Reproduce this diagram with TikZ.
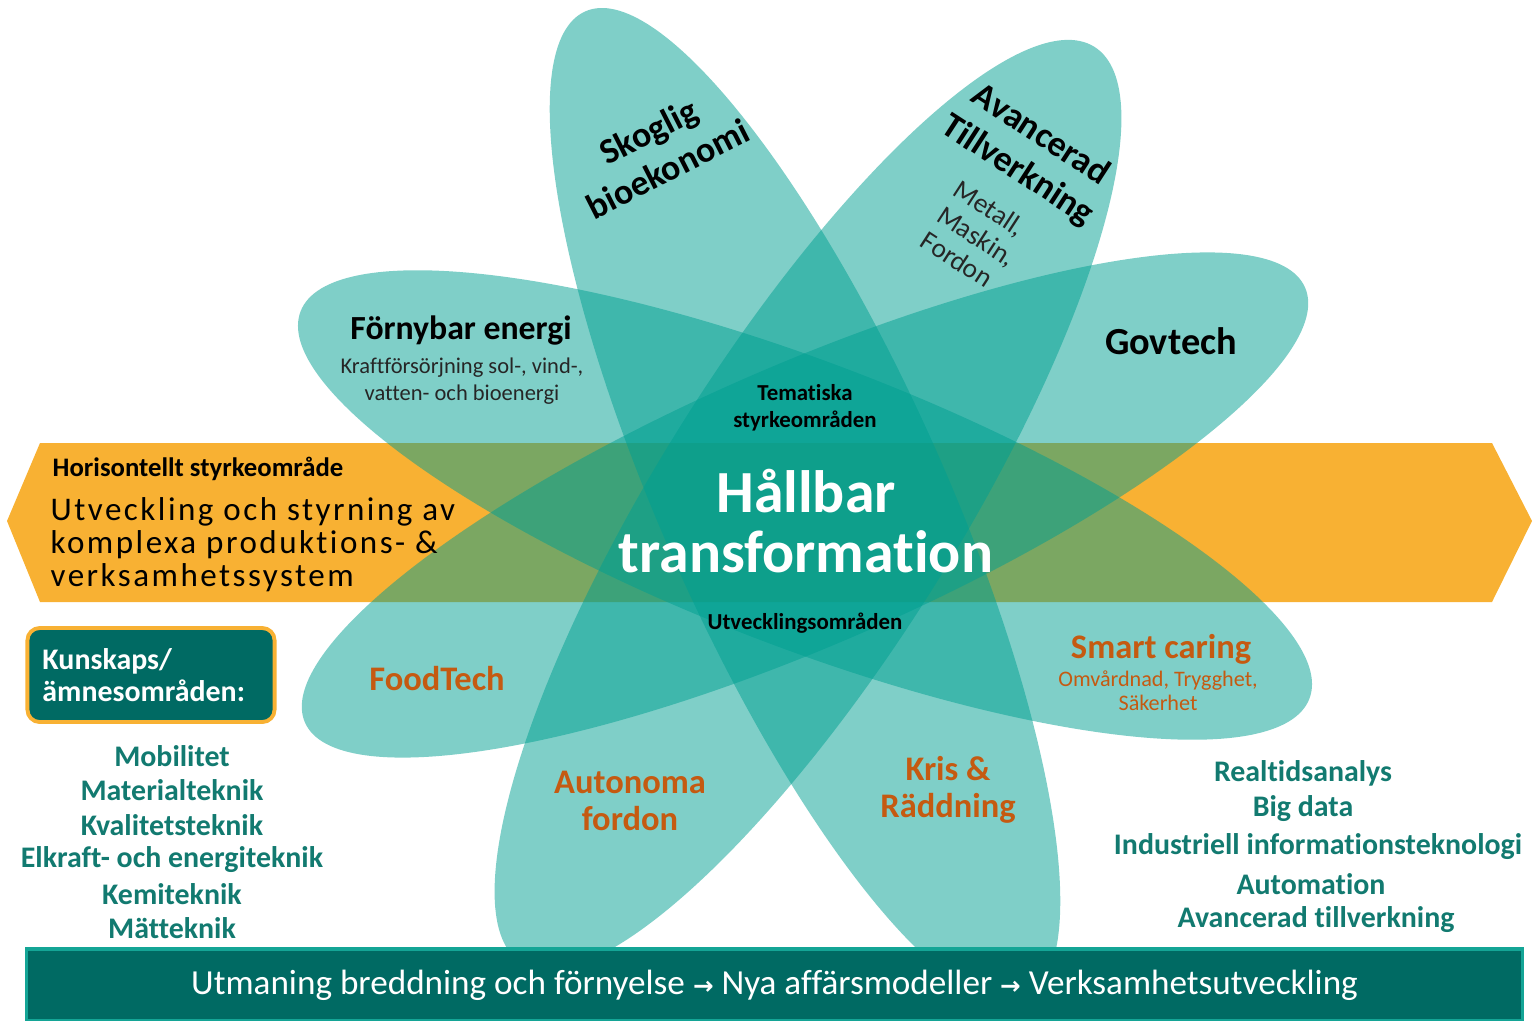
\documentclass[tikz,border=0pt]{standalone}
\usepackage{fontspec}
\setmainfont[Ligatures=NoCommon]{Carlito}
\newfontfamily\arrowfont{DejaVu Sans}
\newfontfamily\spacedfont[LetterSpace=7.5,Ligatures=NoCommon]{Carlito}
\usetikzlibrary{positioning}
\definecolor{bandorange}{RGB}{248,177,51}
\definecolor{petalteal}{RGB}{0,159,145}
\definecolor{deepteal}{RGB}{0,106,99}
\definecolor{listteal}{RGB}{18,122,112}
\definecolor{rust}{RGB}{197,90,17}
\definecolor{rimteal}{RGB}{20,165,150}
\newcommand{\nextstep}{{\arrowfont\fontsize{7pt}{7pt}\selectfont\textbf{→}}}
\tikzset{%
  % Specifications for style of shapes and nodes:
      petal/.style = {fill=petalteal, fill opacity=0.5},
   bigtitle/.style = {text=white, font=\fontsize{17pt}{17pt}\selectfont\bfseries},
 blacktitle/.style = {text=black, font=\fontsize{9.6pt}{10.5pt}\selectfont\bfseries},
  blacknote/.style = {text=black!85, font=\fontsize{6.4pt}{7.7pt}\selectfont},
orangetitle/.style = {text=rust, font=\fontsize{9.8pt}{10.6pt}\selectfont\bfseries},
 orangenote/.style = {text=rust, font=\fontsize{6.3pt}{6.9pt}\selectfont},
  centretag/.style = {text=black, font=\fontsize{6.5pt}{7.7pt}\selectfont\bfseries},
   listitem/.style = {text=listteal, font=\fontsize{8.5pt}{9pt}\selectfont\bfseries},
    knowbox/.style = {rectangle, rounded corners=3.5pt, draw=bandorange, line width=1.1pt,
                      fill=deepteal, text=white, align=left, text width=2.17cm,
                      minimum width=2.47cm, minimum height=0.94cm, inner xsep=0.15cm,
                      font=\fontsize{8.5pt}{9.2pt}\selectfont\bfseries},
    footbar/.style = {rectangle, draw=rimteal, line width=1pt, fill=deepteal, text=white,
                      minimum width=14.95cm, minimum height=0.72cm,
                      font=\fontsize{10pt}{12pt}\selectfont},
}
\begin{document}
\begin{tikzpicture}[x=0.01cm, y=-0.01cm, node distance=0.344cm,
    every node/.style={inner sep=0pt}, align=center]
\useasboundingbox (0,0) rectangle (1536,1021);
% horizontal band
\fill[bandorange] (7,521) -- (40,443) -- (1492,443) -- (1532,521) -- (1492,602) -- (40,602) -- cycle;
% the four petals
\fill[petal, rotate around={-66:(805,505)}] (805,505) ellipse [x radius=5.4cm, y radius=1.42cm];
\fill[petal, rotate around={58:(808,505)}] (808,505) ellipse [x radius=5.4cm, y radius=1.5cm];
\fill[petal, rotate around={-21:(805,505)}] (805,505) ellipse [x radius=5.4cm, y radius=1.42cm];
\fill[petal, rotate around={23.5:(805,505)}] (805,505) ellipse [x radius=5.45cm, y radius=1.4cm];

% texts on the band
\node (horiz) [anchor=west, font=\fontsize{7.6pt}{8pt}\selectfont\bfseries] at (52,469) {Horisontellt styrkeområde};
\node (utv) [anchor=west, align=left, font=\fontsize{9.4pt}{9.4pt}\spacedfont] at (50,545)
  {Utveckling och styrning av\\komplexa produktions- \&\\verksamhetssystem};

% petal texts
\node (skog) [blacktitle, rotate=27, font=\fontsize{10.2pt}{12pt}\selectfont\bfseries] at (658,150) {Skoglig\\bioekonomi};
\node (avanc) [blacktitle, rotate=-33, font=\fontsize{10.2pt}{12pt}\selectfont\bfseries] at (1029,153) {Avancerad\\Tillverkning};
\node (metall) [blacknote, rotate=-33, align=left, font=\fontsize{7.8pt}{8.6pt}\selectfont] at (977,236) {Metall,\\Maskin,\\Fordon};
\node (fornybar) [blacktitle] at (461,331) {Förnybar energi};
\node (kraft) [blacknote] at (462,381) {Kraftförsörjning sol-, vind-,\\vatten- och bioenergi};
\node (govtech) [blacktitle, font=\fontsize{10.9pt}{11pt}\selectfont\bfseries] at (1171,341) {Govtech};
\node (tema) [centretag] at (805,408) {Tematiska\\styrkeområden};
\node (hallbar) [bigtitle] at (806,521) {Hållbar\\transformation};
\node (utvomr) [centretag] at (805,623) {Utvecklingsområden};
\node (food) [orangetitle] at (437,679) {FoodTech};
\node (smart) [orangetitle] at (1161,649) {Smart caring};
\node (omv) [orangenote] at (1158,691) {Omvårdnad, Trygghet,\\Säkerhet};
\node (auto) [orangetitle] at (630,801) {Autonoma\\fordon};
\node (kris) [orangetitle] at (948,790) {Kris \&\\Räddning};

% knowledge areas, left
\node (kunskap) [knowbox] at (151,675) {Kunskaps/\\ämnesområden:};
\node (mob) [listitem] at (172,756) {Mobilitet};
\node (mat) [listitem, below of=mob] {Materialteknik};
\node (kval) [listitem, below of=mat] {Kvalitetsteknik};
\node (elkraft) [listitem, below of=kval] {Elkraft- och energiteknik};
\node (kemi) [listitem, below of=elkraft] {Kemiteknik};
\node (matt) [listitem, below of=kemi] {Mätteknik};

% knowledge areas, right
\node (realtid) [listitem] at (1303,773) {Realtidsanalys};
\node (big) [listitem, below of=realtid, node distance=0.36cm] {Big data};
\node (indinf) [listitem, below of=big, node distance=0.37cm, xshift=0.15cm] {Industriell informationsteknologi};
\node (autom) [listitem, below of=indinf, node distance=0.38cm, xshift=-0.07cm] {Automation};
\node (avtill) [listitem, below of=autom, node distance=0.35cm, xshift=0.05cm] {Avancerad tillverkning};

% bottom bar
\node (foot) [footbar] at (774.5,985)
  {Utmaning breddning och förnyelse \nextstep{} Nya affärsmodeller \nextstep{} Verksamhetsutveckling};
\end{tikzpicture}
\end{document}
